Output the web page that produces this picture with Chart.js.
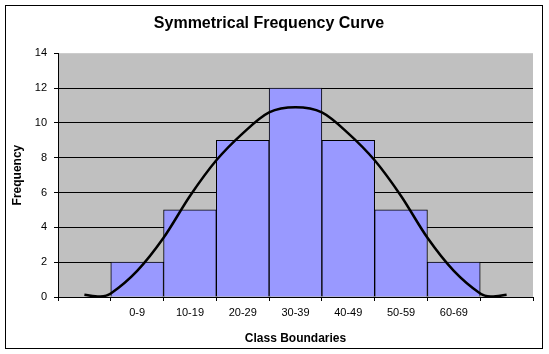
<!DOCTYPE html>
<html>
<head>
<meta charset="utf-8">
<script src="https://cdn.jsdelivr.net/npm/chart.js@4"></script>
<style>
  body { margin: 0; background: #fff; }
</style>
</head>
<body>
<canvas id="myChart" width="549" height="354"></canvas>
<script>
// Categorie (classi) - vuote ai bordi come nell'originale
const classLabels = ['', '0-9', '10-19', '20-29', '30-39', '40-49', '50-59', '60-69', ''];
// Frequenze delle barre
const frequencies = [0, 2, 5, 9, 12, 9, 5, 2, 0];
// Curva simmetrica: posizione (indice di classe) e valore
const curveX = [0, 0.3, 0.5, 1, 1.5, 2, 2.5, 3, 3.5, 4, 4.5, 5, 5.5, 6, 6.5, 7, 7.5, 7.7, 8];
const curveY = [0.13, 0.03, 0.2, 1.5, 3.4, 5.8, 7.85, 9.4, 10.6, 10.9, 10.6, 9.4, 7.85, 5.8, 3.4, 1.5, 0.2, 0.03, 0.13];
// Tick asse Y
const yTicks = [0, 2, 4, 6, 8, 10, 12, 14];

Chart.defaults.font.family = 'Arial, "Liberation Sans", sans-serif';
Chart.defaults.color = '#000';

// Sfondo bianco, area grigia e cornice esterna
const backgroundPlugin = {
    id: 'excelBackground',
    beforeDraw: function(chart) {
        const ctx = chart.ctx;
        const a = chart.chartArea;
        ctx.save();
        ctx.fillStyle = '#fff';
        ctx.fillRect(0, 0, chart.width, chart.height);
        ctx.fillStyle = '#C0C0C0';
        ctx.fillRect(a.left, a.top, a.right - a.left, a.bottom - a.top);
        ctx.restore();
    },
    afterDraw: function(chart) {
        const ctx = chart.ctx;
        ctx.save();
        ctx.strokeStyle = '#000';
        ctx.lineWidth = 1;
        ctx.strokeRect(5.5, 5.5, 537, 343);
        ctx.restore();
    }
};

let ctx = document.getElementById('myChart');
let myChart = new Chart(ctx, {
    type: 'bar',
    data: {
        labels: classLabels,
        datasets: [{
            type: 'line',
            xAxisID: 'xCurve',
            yAxisID: 'y',
            data: curveX.map((x, i) => ({ x: x, y: curveY[i] })),
            borderColor: '#000',
            borderWidth: 2.5,
            pointRadius: 0,
            tension: 0.3,
            fill: false,
            order: 0
        }, {
            type: 'bar',
            xAxisID: 'x',
            yAxisID: 'y',
            data: frequencies,
            backgroundColor: '#9999FF',
            borderColor: '#000',
            borderWidth: 1,
            barPercentage: 1,
            categoryPercentage: 1,
            grouped: false,
            order: 1
        }]
    },
    options: {
        responsive: false,
        animation: false,
        layout: {
            padding: { left: 5, right: 16, top: 5, bottom: 6 }
        },
        plugins: {
            legend: { display: false },
            tooltip: { enabled: false },
            title: {
                display: true,
                text: 'Symmetrical Frequency Curve',
                color: '#000',
                font: { size: 16, weight: 'bold' },
                padding: { top: 9, bottom: 20 }
            }
        },
        scales: {
            x: {
                type: 'category',
                offset: true,
                grid: {
                    offset: true,
                    drawOnChartArea: false,
                    drawTicks: true,
                    tickLength: 4,
                    color: '#000'
                },
                border: { color: '#000', width: 1 },
                ticks: {
                    font: { size: 11 },
                    padding: 5,
                    maxRotation: 0,
                    autoSkip: false
                },
                title: {
                    display: true,
                    text: 'Class Boundaries',
                    font: { size: 12, weight: 'bold' },
                    padding: { top: 6, bottom: 2 }
                },
                afterFit: function(scale) {
                    scale.height = 51;
                }
            },
            // asse nascosto per posizionare la curva tra le classi
            xCurve: {
                type: 'linear',
                axis: 'x',
                position: 'bottom',
                display: false,
                offset: false,
                grid: { offset: false },
                min: -0.5,
                max: 8.5
            },
            y: {
                min: yTicks[0],
                max: yTicks[yTicks.length - 1],
                afterBuildTicks: function(scale) {
                    scale.ticks = yTicks.map(v => ({ value: v }));
                },
                grid: {
                    color: (c) => (c.tick && c.tick.value === 14) ? 'rgba(0,0,0,0)' : '#000',
                    tickColor: '#000',
                    tickLength: 4,
                    lineWidth: 1
                },
                border: { color: '#000', width: 1 },
                ticks: {
                    font: { size: 11 },
                    padding: 7
                },
                title: {
                    display: true,
                    text: 'Frequency',
                    font: { size: 12, weight: 'bold' },
                    padding: { top: 5, bottom: 0 }
                },
                afterFit: function(scale) {
                    scale.width = 53;
                }
            }
        }
    },
    plugins: [backgroundPlugin]
});
</script>
</body>
</html>
